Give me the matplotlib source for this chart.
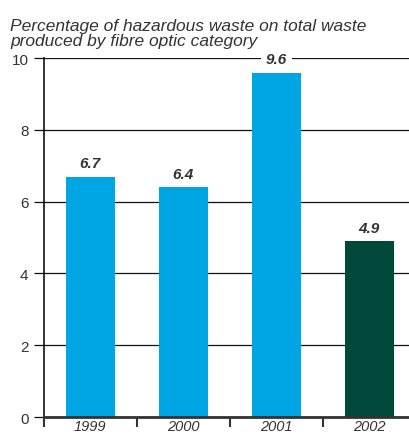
import matplotlib.pyplot as plt
import numpy as np

# data
years = ['1999', '2000', '2001', '2002']
values = [6.7, 6.4, 9.6, 4.9]
bar_colors = ['#00A6E3', '#00A6E3', '#00A6E3', '#00483A']
y_ticks = [0, 2, 4, 6, 8, 10]

title = "Percentage of hazardous waste on total waste\nproduced by fibre optic category"

plt.rcParams['font.family'] = ['Liberation Sans', 'DejaVu Sans']

fig = plt.figure(figsize=(4.1, 4.35), dpi=100)
ax = fig.add_axes([0.107, 0.039, 0.9, 0.825])

x = np.arange(len(years))
ax.bar(x, values, width=0.53, color=bar_colors, zorder=2)

# horizontal gridlines
ax.set_ylim(0, 10)
ax.set_xlim(-0.5, 3.47)
ax.set_yticks(y_ticks)
ax.yaxis.grid(True, color='#111111', linewidth=0.9, zorder=0)
ax.set_axisbelow(True)

# value labels with white background to break the gridline
for xi, v in zip(x, values):
    ax.text(xi, v + 0.17, f'{v:.1f}', ha='center', va='bottom',
            fontsize=11, fontweight='bold', fontstyle='italic', color='#333333',
            bbox=dict(facecolor='white', edgecolor='none', pad=3.5), zorder=3)

# x ticks between the bars, labels under each bar
ax.set_xticks([-0.5, 0.5, 1.5, 2.5])
ax.set_xticklabels([])
ax.set_xticks(x, minor=True)
ax.set_xticklabels(years, minor=True, fontstyle='italic', fontsize=10.5, color='#333333')
ax.tick_params(axis='x', which='major', direction='out', length=7, width=1.5, color='#333333')
ax.tick_params(axis='x', which='minor', length=0, pad=1.5)
ax.tick_params(axis='y', direction='out', length=7, width=0.9, color='#111111',
               labelsize=11, labelcolor='#333333', pad=4)

for side in ['top', 'right']:
    ax.spines[side].set_visible(False)
ax.spines['left'].set_color('#111111')
ax.spines['left'].set_linewidth(1.2)
ax.spines['bottom'].set_color('#333333')
ax.spines['bottom'].set_linewidth(2)

fig.text(0.025, 0.888, title, ha='left', va='bottom', fontsize=12.5,
         fontstyle='italic', color='#333333', linespacing=1.0)

fig.savefig('out.png', dpi=100)
